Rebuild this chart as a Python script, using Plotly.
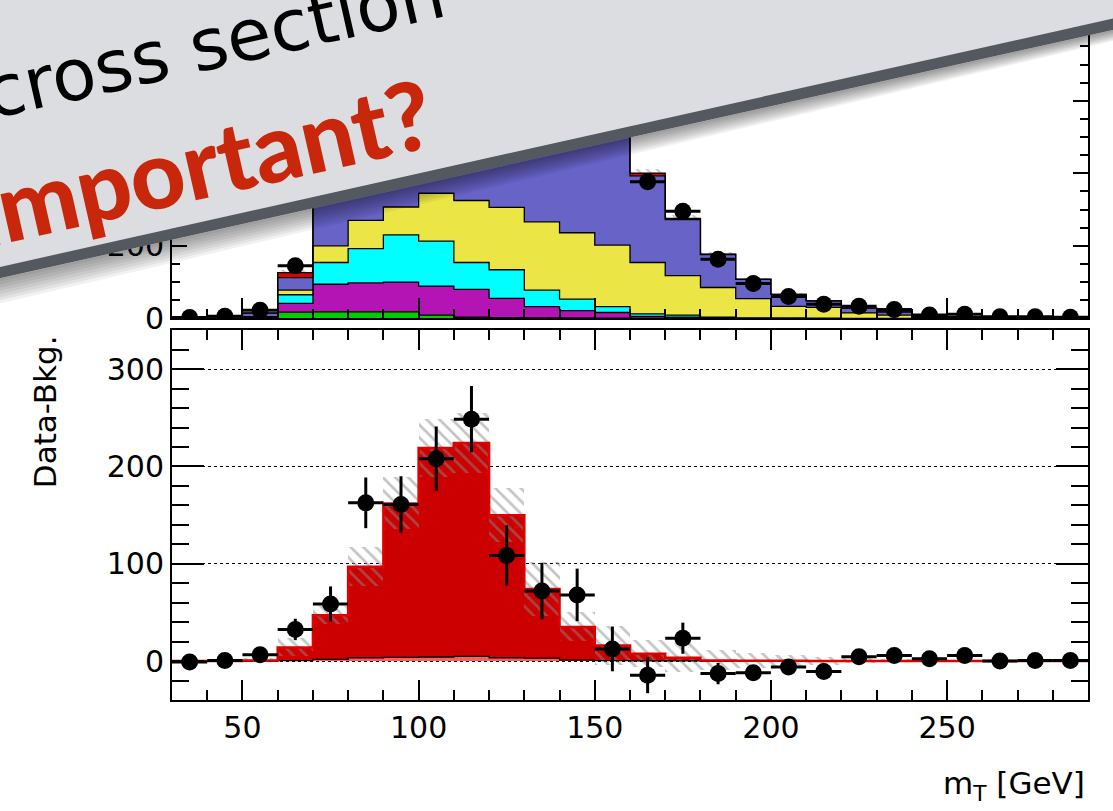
import plotly.graph_objects as go

# ---------------- data ----------------
bin_edges = [30, 40, 50, 60, 70, 80, 90, 100, 110, 120, 130, 140, 150, 160,
             170, 180, 190, 200, 210, 220, 230, 240, 250, 260, 270, 280, 290]
bin_centers = [35, 45, 55, 65, 75, 85, 95, 105, 115, 125, 135, 145, 155, 165,
               175, 185, 195, 205, 215, 225, 235, 245, 255, 265, 275, 285]

# top panel: background components (events / 10 GeV)
bkg_green = [0, 0, 0.5, 17, 18, 18, 18, 9, 3, 2, 1, 1, 0.5, 0, 0, 0, 0, 0, 0, 0, 0, 0, 0, 0, 0, 0]
bkg_magenta = [0, 0.5, 2, 24, 76, 80, 82, 80, 77, 53, 31, 20, 15.5, 5, 3, 1, 0.5, 0.5, 0.3, 0, 0, 0, 0, 0, 0, 0]
bkg_cyan = [0, 0, 1, 24, 60, 94, 130, 124, 74, 79, 46, 32, 16, 7, 6, 2, 1, 0.5, 0.3, 0, 0, 0, 0, 0, 0, 0]
bkg_yellow = [0, 0, 1, 13, 46, 78, 77, 132, 171, 172, 188, 183, 170, 142, 109, 82, 53, 32, 29.4, 15, 9, 3, 3, 1.2, 1, 0.6]
bkg_blue = [0.3, 5, 10, 34, 180, 200, 233, 255, 315, 344, 374, 374, 358, 239, 154, 91, 53, 33, 18, 13, 9, 2, 1.5, 0.8, 0.5, 0.4]
signal = [0, 0, 0.5, 14, 47, 97, 162, 219, 224, 150, 74, 35, 16, 7.5, 3.4, 0.7, 0.4, 0.3, 0.2, 0.1, 0, 0, 0, 0, 0, 0]
signal_low = [0, 0, 0, 0.5, 1.7, 3.4, 3.8, 4.2, 4.8, 3.4, 3, 1, 0.5, 0.3, 0.2, 0, 0, 0, 0, 0, 0, 0, 0, 0, 0, 0]
stack_unc = [0, 0.5, 1, 6, 10, 14, 16, 18, 20, 20, 20, 18, 16, 12, 9, 6, 4, 3, 2, 1.5, 1, 0.5, 0.5, 0.3, 0.3, 0.2]
data_top = [2, 6, 22, 145, 439, 632, 701, 808, 889, 759, 712, 679, 572, 377, 295, 163, 96, 60, 39, 33, 24, 9, 11, 4, 4, 3]

# bottom panel: data - background
data_minus_bkg = [-1, 0.7, 6.5, 32.5, 58.7, 162.6, 161, 208, 248.6, 108.6, 72, 68, 12.5,
                  -14.5, 23.5, -12.8, -12.1, -6.1, -10.8, 4.5, 5.7, 2.4, 5.7, 0, 0.5, 0.5]
data_minus_bkg_err = [2, 2, 4, 11, 18, 26, 29, 33, 34, 31, 29, 27, 23, 18.5, 16, 11, 8, 7, 6, 4, 4, 3, 3, 2, 2, 2]
signal_unc = [1, 1, 2, 9, 9, 20, 27, 30, 31, 28, 28, 15, 20, 13.5, 14.6, 10, 7.6, 5.7, 4, 2.5, 1.5, 1.5, 1.2, 1, 1, 1]

x_ticks = [50, 100, 150, 200, 250]

# ---------------- geometry ----------------
W, H = 1113, 811
ML, MR, MT, MB = 172, 25, 11, 111
PW, PH = W - ML - MR, H - MT - MB
BOT = H - MB


def P(px, py):
    return (px - ML) / PW, (BOT - py) / PH


def step(vals):
    return list(vals) + [vals[-1]]


def cumulate(*arrs):
    out = [0.0] * len(arrs[0])
    for a in arrs:
        out = [o + v for o, v in zip(out, a)]
    return out


fig = go.Figure()

# ---------------- top panel stack ----------------
layers = [
    (bkg_green, "#00cc00"),
    (bkg_magenta, "#b414b4"),
    (bkg_cyan, "#00ffff"),
    (bkg_yellow, "#ebe545"),
    (bkg_blue, "#6763c7"),
    (signal, "#dd0000"),
]
acc = []
for i, (vals, col) in enumerate(layers):
    acc.append(vals)
    cum = cumulate(*acc)
    fig.add_trace(go.Scatter(
        x=bin_edges, y=step(cum), mode="lines", line=dict(shape="hv", color="black", width=1.3),
        fill="tozeroy" if i == 0 else "tonexty", fillcolor=col,
        xaxis="x2", yaxis="y2", showlegend=False, hoverinfo="skip"))

total_top = cumulate(*[l[0] for l in layers])
fig.add_trace(go.Bar(
    x=bin_centers, y=[2 * u for u in stack_unc], base=[t - u for t, u in zip(total_top, stack_unc)],
    width=10, marker=dict(color="rgba(0,0,0,0)", line=dict(width=0),
                          pattern=dict(shape="\\", fgcolor="#909090", bgcolor="rgba(0,0,0,0)",
                                       size=7, solidity=0.3)),
    xaxis="x2", yaxis="y2", showlegend=False, hoverinfo="skip"))

fig.add_trace(go.Scatter(
    x=bin_centers, y=data_top, mode="markers",
    marker=dict(symbol="circle", size=17, color="black"),
    error_x=dict(type="constant", value=5, thickness=3, width=0, color="black"),
    xaxis="x2", yaxis="y2", showlegend=False, hoverinfo="skip"))

# ---------------- bottom panel ----------------
fig.add_trace(go.Bar(
    x=bin_centers, y=signal, width=10,
    marker=dict(color="#cc0000", line=dict(width=0)),
    xaxis="x", yaxis="y", showlegend=False, hoverinfo="skip"))
fig.add_trace(go.Bar(
    x=bin_centers, y=[2 * u for u in signal_unc], base=[s - u for s, u in zip(signal, signal_unc)],
    width=10, marker=dict(color="rgba(0,0,0,0)", line=dict(width=0),
                          pattern=dict(shape="\\", fgcolor="#8a8a8a", bgcolor="rgba(0,0,0,0)",
                                       size=9, solidity=0.3)),
    xaxis="x", yaxis="y", showlegend=False, hoverinfo="skip"))
fig.add_trace(go.Scatter(
    x=bin_edges, y=step(signal_low), mode="lines", line=dict(shape="hv", color="black", width=1.3),
    fill="tozeroy", fillcolor="#ff5c5c",
    xaxis="x", yaxis="y", showlegend=False, hoverinfo="skip"))
fig.add_trace(go.Scatter(
    x=bin_edges, y=step(signal), mode="lines", line=dict(shape="hv", color="#e00000", width=2.5),
    xaxis="x", yaxis="y", showlegend=False, hoverinfo="skip"))
fig.add_trace(go.Scatter(
    x=bin_centers, y=data_minus_bkg, mode="markers",
    marker=dict(symbol="circle", size=17, color="black"),
    error_x=dict(type="constant", value=5, thickness=3, width=0, color="black"),
    error_y=dict(type="data", array=data_minus_bkg_err, thickness=3, width=0, color="black"),
    xaxis="x", yaxis="y", showlegend=False, hoverinfo="skip"))

tickfont = dict(family="DejaVu Sans", size=30, color="black")
frame = dict(showline=True, linecolor="black", linewidth=2, mirror="ticks", ticks="inside",
             tickcolor="black", tickwidth=1.5, zeroline=False)

y_bot_dom = (BOT - 324.8) / PH
y_top_dom = (BOT - 312.7) / PH

fig.update_layout(
    width=W, height=H, margin=dict(l=ML, r=MR, t=MT, b=MB),
    paper_bgcolor="white", plot_bgcolor="white", barmode="overlay", bargap=0,
    xaxis=dict(domain=[0, 1], anchor="y", range=[30, 290], tickvals=x_ticks, ticklen=20,
               minor=dict(dtick=10, tick0=0, ticklen=10, ticks="inside", tickcolor="black", tickwidth=1.5),
               tickfont=tickfont, showgrid=False, **frame),
    yaxis=dict(domain=[0, y_bot_dom], anchor="x", range=[-40, 340], dtick=100, tick0=0, ticklen=32,
               minor=dict(dtick=20, tick0=0, ticklen=17, ticks="inside", tickcolor="black", tickwidth=1.5),
               showgrid=True, gridcolor="black", griddash="dot", gridwidth=1.4,
               tickfont=tickfont, **frame),
    xaxis2=dict(domain=[0, 1], anchor="y2", matches="x", range=[30, 290], tickvals=x_ticks, ticklen=20,
                minor=dict(dtick=10, tick0=0, ticklen=9, ticks="inside", tickcolor="black", tickwidth=1.5),
                showticklabels=False, showgrid=False, **frame),
    yaxis2=dict(domain=[y_top_dom, 1], anchor="x2", range=[0, 820], dtick=200, tick0=0, ticklen=15,
                minor=dict(dtick=50, tick0=0, ticklen=8, ticks="inside", tickcolor="black", tickwidth=1.5),
                showgrid=False, tickfont=tickfont, **frame),
)

# ---------------- banner overlay ----------------
SLOPE = 0.2264
ANG = -12.76


def edge(px):
    return 272 - SLOPE * px


def path(pts):
    s = ""
    for i, (px, py) in enumerate(pts):
        x, y = P(px, py)
        s += ("M" if i == 0 else "L") + f"{x:.5f},{y:.5f} "
    return s + "Z"


shapes = []
XL, XR = -30, W + 30
for k in range(8, 0, -1):
    tl, tr = 26 * k / 8, 11 * k / 8
    shapes.append(dict(type="path", xref="paper", yref="paper", layer="above",
                       path=path([(XL, edge(XL)), (XR, edge(XR)), (XR, edge(XR) + tr), (XL, edge(XL) + tl)]),
                       fillcolor="rgba(0,0,0,0.055)", line=dict(width=0)))
shapes.append(dict(type="path", xref="paper", yref="paper", layer="above",
                   path=path([(XL, -30), (XR, -30), (XR, edge(XR) - 11), (XL, edge(XL) - 11)]),
                   fillcolor="#dcdde0", line=dict(width=0)))
shapes.append(dict(type="path", xref="paper", yref="paper", layer="above",
                   path=path([(XL, edge(XL) - 11.5), (XR, edge(XR) - 11.5), (XR, edge(XR)), (XL, edge(XL))]),
                   fillcolor="#545960", line=dict(width=0)))
fig.update_layout(shapes=shapes)

ann = []
cx, cy = P(214, 33)
ann.append(dict(text="cross section", x=cx, y=cy, xref="paper", yref="paper", showarrow=False,
                xanchor="center", yanchor="middle", textangle=ANG,
                font=dict(family="DejaVu Sans", size=72, color="black")))
cx, cy = P(202, 153)
ann.append(dict(text="important?", x=cx, y=cy, xref="paper", yref="paper", showarrow=False,
                xanchor="center", yanchor="middle", textangle=ANG,
                font=dict(family="Lato", size=95, color="#c9270b", weight=900)))
cx, cy = P(45, 408)
ann.append(dict(text="Data-Bkg.", x=cx, y=cy, xref="paper", yref="paper", showarrow=False,
                xanchor="center", yanchor="middle", textangle=-90,
                font=dict(family="DejaVu Sans", size=31, color="black")))
cx, cy = P(1087, 787)
ann.append(dict(text="m<sub>T</sub> [GeV]", x=cx, y=cy, xref="paper", yref="paper", showarrow=False,
                xanchor="right", yanchor="middle",
                font=dict(family="DejaVu Sans", size=31, color="black")))
fig.update_layout(annotations=ann)

fig.write_html("out.html", config={"displayModeBar": False},
               post_script="document.body.style.margin='0px';")
